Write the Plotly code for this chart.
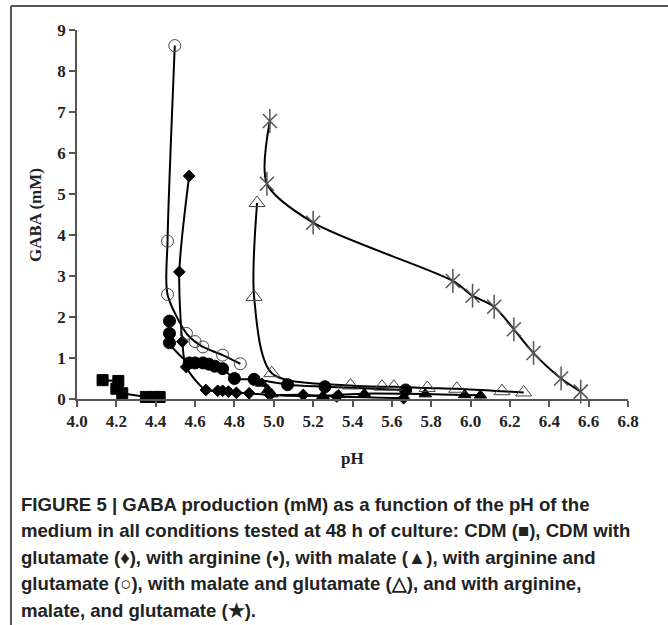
import plotly.graph_objects as go

# ---- data (pH, GABA mM) ----
cdm_ph = [4.13, 4.21, 4.20, 4.23, 4.35, 4.39, 4.42]
cdm_gaba = [0.46, 0.44, 0.25, 0.14, 0.05, 0.05, 0.05]

glu_ph = [4.57, 4.52, 4.535, 4.555, 4.655, 4.715, 4.74, 4.77, 4.81, 4.875, 4.98, 5.15, 5.32, 5.66]
glu_gaba = [5.44, 3.1, 1.4, 0.78, 0.22, 0.2, 0.2, 0.18, 0.15, 0.14, 0.1, 0.1, 0.06, 0.02]

arg_ph = [4.47, 4.47, 4.47, 4.57, 4.60, 4.64, 4.67, 4.70, 4.74, 4.80, 4.90, 5.07, 5.26, 5.67]
arg_gaba = [1.9, 1.6, 1.37, 0.88, 0.88, 0.88, 0.85, 0.8, 0.74, 0.5, 0.48, 0.35, 0.3, 0.22]

mal_ph = [4.94, 4.97, 4.99, 5.25, 5.33, 5.46, 5.77, 5.97, 6.05]
mal_gaba = [0.38, 0.22, 0.12, 0.08, 0.1, 0.13, 0.12, 0.1, 0.09]

argglu_ph = [4.497, 4.46, 4.46, 4.556, 4.60, 4.64, 4.74, 4.83]
argglu_gaba = [8.62, 3.85, 2.55, 1.6, 1.4, 1.27, 1.07, 0.86]

malglu_ph = [4.915, 4.90, 4.99, 5.39, 5.55, 5.61, 5.78, 5.93, 6.16, 6.27]
malglu_gaba = [4.78, 2.49, 0.63, 0.33, 0.3, 0.3, 0.27, 0.25, 0.19, 0.16]

all3_ph = [4.98, 4.965, 5.20, 5.91, 6.01, 6.12, 6.22, 6.32, 6.46, 6.56]
all3_gaba = [6.78, 5.25, 4.3, 2.88, 2.52, 2.25, 1.7, 1.12, 0.5, 0.18]

x_ticks = [4.0, 4.2, 4.4, 4.6, 4.8, 5.0, 5.2, 5.4, 5.6, 5.8, 6.0, 6.2, 6.4, 6.6, 6.8]
y_ticks = [0, 1, 2, 3, 4, 5, 6, 7, 8, 9]

caption_lines = [
    "FIGURE 5 | GABA production (mM) as a function of the pH of the",
    "medium in all conditions tested at 48 h of culture: CDM (■), CDM with",
    "glutamate (♦), with arginine (•), with malate (▲), with arginine and",
    "glutamate (○), with malate and glutamate (△), and with arginine,",
    "malate, and glutamate (★).",
]

fig = go.Figure()
LINE = dict(color="black", width=2, shape="spline", smoothing=0.8)


def add(xs, ys, symbol, size, mcolor="black", lw=1, line=LINE, mode="lines+markers"):
    fig.add_trace(go.Scatter(
        x=xs, y=ys, mode=mode, line=line,
        marker=dict(symbol=symbol, size=size, color=mcolor,
                    line=dict(color=mcolor if "open" in symbol else "black", width=lw)),
        showlegend=False, cliponaxis=False))


add(cdm_ph, cdm_gaba, "square", 11, line=dict(color="black", width=2))
add(glu_ph, glu_gaba, "diamond", 9)
add(arg_ph, arg_gaba, "circle", 12)
add(mal_ph, mal_gaba, "triangle-up", 11)
add(argglu_ph, argglu_gaba, "circle-open", 12, mcolor="#444", lw=1)
add(malglu_ph, malglu_gaba, "triangle-up-open", 14, mcolor="#444", lw=1)
add(all3_ph, all3_gaba, "x-thin-open", 14, mcolor="#555", lw=1.5)
add(all3_ph, all3_gaba, "line-ns-open", 17, mcolor="#555", lw=1.5, mode="markers")

# plot area in pixels: x 77..628, y 30..399
L, R, T, B = 77, 628, 30, 399
W, H = 668, 625


def px(xp):
    return (xp - L) / (R - L)


def py(yp):
    return (B - yp) / (B - T)


TF = dict(family="Liberation Serif", size=17, color="#222", weight="bold")

annotations = [
    dict(text="<b>GABA (mM)</b>", xref="paper", yref="paper", x=px(36), y=py(215),
         textangle=-90, showarrow=False, xanchor="center", yanchor="middle",
         font=dict(family="Liberation Serif", size=17, color="#222")),
    dict(text="<b>pH</b>", xref="paper", yref="paper", x=px(352), y=py(458),
         showarrow=False, xanchor="center", yanchor="middle",
         font=dict(family="Liberation Serif", size=17, color="#222")),
]
for i, line in enumerate(caption_lines):
    annotations.append(dict(
        text="<b>" + line + "</b>", xref="paper", yref="paper", x=px(19), y=py(504 + 26.6 * i),
        showarrow=False, xanchor="left", yanchor="middle", align="left",
        font=dict(family="Liberation Sans", size=18.6, color="#222")))

fig.update_layout(
    width=W, height=H,
    margin=dict(l=L, r=W - R, t=T, b=H - B),
    paper_bgcolor="white", plot_bgcolor="white",
    xaxis=dict(range=[4.0, 6.8], tickvals=x_ticks, ticktext=[f"{v:.1f}" for v in x_ticks],
               showgrid=False, zeroline=False, showline=True, linecolor="#555", linewidth=1.5,
               ticks="outside", ticklen=6, tickcolor="#555", tickwidth=1.5, tickfont=TF),
    yaxis=dict(range=[0, 9], tickvals=y_ticks,
               showgrid=False, zeroline=False, showline=True, linecolor="#555", linewidth=1.5,
               ticks="outside", ticklen=6, tickcolor="#555", tickwidth=1.5, tickfont=TF),
    shapes=[
        dict(type="line", xref="paper", yref="paper", x0=px(11), x1=px(700), y0=py(6), y1=py(6),
             line=dict(color="#555", width=2)),
        dict(type="line", xref="paper", yref="paper", x0=px(11), x1=px(11), y0=py(6), y1=py(700),
             line=dict(color="#555", width=2)),
    ],
    annotations=annotations,
)

fig.write_html("out.html")
